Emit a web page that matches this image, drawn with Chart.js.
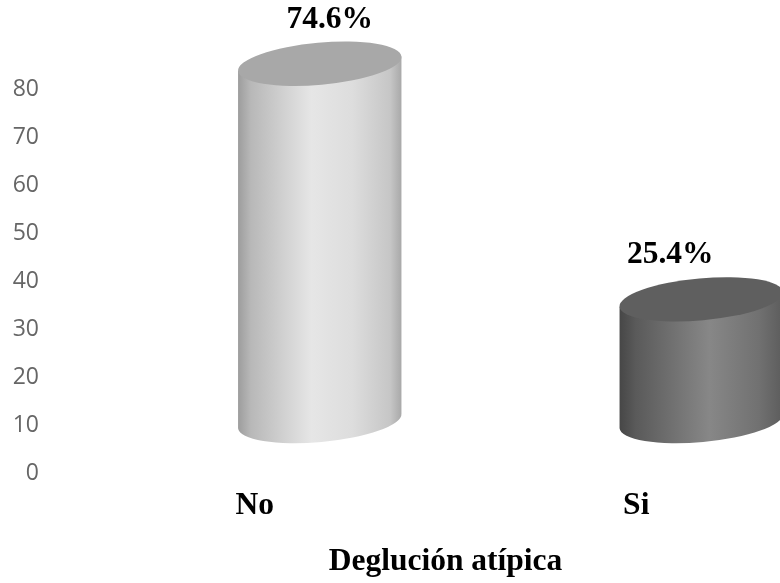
<!DOCTYPE html>
<html>
<head>
<meta charset="utf-8">
<script src="https://cdn.jsdelivr.net/npm/chart.js@4.4.1/dist/chart.umd.min.js"></script>
<style>
  html, body { margin: 0; padding: 0; background: #ffffff; overflow: hidden; }
  #wrap { width: 780px; height: 583px; overflow: hidden; position: relative; }
  canvas { display: block; }
</style>
</head>
<body>
<div id="wrap"><canvas id="chart" width="830" height="583" style="width:830px;height:583px"></canvas></div>
<script>
// Deglución atípica: share of cases (%)
const categories = ['No', 'Si'];
const percentages = [74.6, 25.4];
const axisTicks = [0, 10, 20, 30, 40, 50, 60, 70, 80];

const SERIF = '"Liberation Serif", "Times New Roman", serif';

// Draws each bar as a shaded 3D cylinder with its percentage above it
const cylinderPlugin = {
  id: 'cylinders',
  afterDatasetsDraw(chart, args, opts) {
    const ctx = chart.ctx;
    const meta = chart.getDatasetMeta(0);
    const y0 = chart.scales.y.getPixelForValue(0);
    meta.data.forEach((el, i) => {
      const rx = el.width / 2;
      const ry = opts.ry;
      const rot = opts.tilt;
      const cx = el.x + opts.depthX;
      const by = y0 - opts.depthY;
      const ty = by - (y0 - el.y);
      const cos = Math.cos(rot), sin = Math.sin(rot);
      const face = opts.faces[i];

      ctx.save();
      const g = ctx.createLinearGradient(cx - rx, 0, cx + rx, 0);
      face.side.forEach(([o, c]) => g.addColorStop(o, c));
      ctx.beginPath();
      ctx.moveTo(cx - rx * cos, ty - rx * sin);
      ctx.lineTo(cx - rx * cos, by - rx * sin);
      ctx.ellipse(cx, by, rx, ry, rot, Math.PI, 0, true);
      ctx.lineTo(cx + rx * cos, ty + rx * sin);
      ctx.closePath();
      ctx.fillStyle = g;
      ctx.fill();

      ctx.beginPath();
      ctx.ellipse(cx, ty, rx, ry, rot, 0, Math.PI * 2);
      ctx.fillStyle = face.top;
      ctx.fill();

      ctx.font = 'bold 31.5px ' + SERIF;
      ctx.fillStyle = '#000000';
      ctx.textAlign = 'center';
      ctx.textBaseline = 'alphabetic';
      ctx.fillText(percentages[i].toFixed(1) + '%', cx + opts.labelDx[i], ty - ry - opts.labelGap);
      ctx.restore();
    });
  }
};

new Chart(document.getElementById('chart'), {
  type: 'bar',
  data: {
    labels: categories,
    datasets: [{
      data: percentages,
      backgroundColor: 'rgba(0,0,0,0)',
      borderWidth: 0,
      barPercentage: 0.43,
      categoryPercentage: 1
    }]
  },
  options: {
    responsive: false,
    animation: false,
    layout: { padding: { top: 42, left: 11, right: 3, bottom: 2 } },
    plugins: {
      legend: { display: false },
      tooltip: { enabled: false },
      cylinders: {
        ry: 21,
        tilt: -0.09,
        depthX: 65,
        depthY: 52,
        labelGap: 15,
        labelDx: [10, -31],
        faces: [
          {
            top: '#a8a8a8',
            side: [[0, '#9c9c9c'], [0.08, '#b8b8b8'], [0.45, '#e6e6e6'], [0.7, '#dddddd'], [0.93, '#c6c6c6'], [1, '#a8a8a8']]
          },
          {
            top: '#5f5f5f',
            side: [[0, '#464646'], [0.1, '#5a5a5a'], [0.55, '#878787'], [0.85, '#717171'], [1, '#5c5c5c']]
          }
        ]
      }
    },
    scales: {
      x: {
        grid: { display: false, drawTicks: false },
        border: { display: false },
        afterFit: (scale) => { scale.height = 108; },
        ticks: {
          color: '#000000',
          padding: 14,
          font: { family: SERIF, size: 31.5, weight: 'bold' }
        },
        title: {
          display: true,
          text: 'Deglución atípica',
          color: '#000000',
          padding: { top: 8, bottom: 0 },
          font: { family: SERIF, size: 31.5, weight: 'bold' }
        }
      },
      y: {
        min: 0,
        max: 90,
        grid: { display: false, drawTicks: false },
        border: { display: false },
        afterFit: (scale) => { scale.width = 53; },
        afterBuildTicks: (scale) => { scale.ticks = axisTicks.map(v => ({ value: v })); },
        ticks: {
          color: '#666666',
          padding: 25,
          font: { family: '"Open Sans", sans-serif', size: 23 }
        }
      }
    }
  },
  plugins: [cylinderPlugin]
});
</script>
</body>
</html>
